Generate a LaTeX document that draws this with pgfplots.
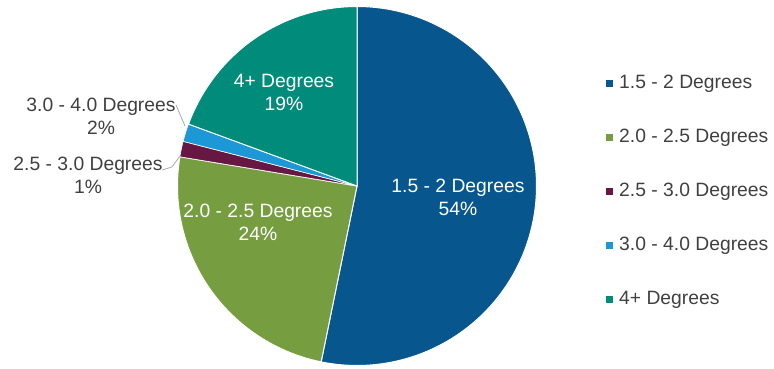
\documentclass[border=0pt]{standalone}
\usepackage{fontspec}
\setmainfont{Liberation Sans}
\usepackage{pgfplots}
\pgfplotsset{compat=1.18}
\definecolor{cA}{RGB}{8,86,142}
\definecolor{cB}{RGB}{118,158,64}
\definecolor{cC}{RGB}{102,24,66}
\definecolor{cD}{RGB}{28,152,214}
\definecolor{cE}{RGB}{0,139,122}
\definecolor{lbl}{RGB}{64,64,64}
\definecolor{lead}{RGB}{170,170,170}
% slice shares (percent of the circle)
\def\pA{53.2}\def\pB{24.4}\def\pC{1.4}\def\pD{1.6}\def\pE{19.4}
\begin{document}
\begin{tikzpicture}
\pgfmathsetmacro\aO{90}
\pgfmathsetmacro\aA{\aO-3.6*\pA}
\pgfmathsetmacro\aB{\aA-3.6*\pB}
\pgfmathsetmacro\aC{\aB-3.6*\pC}
\pgfmathsetmacro\aD{\aC-3.6*\pD}
\pgfmathsetmacro\aE{\aD-3.6*\pE}
\def\cx{357}\def\cy{183}\def\r{179.5}
\begin{axis}[
  scale only axis, width=774pt, height=369pt,
  xmin=0, xmax=774, ymin=0, ymax=369,
  hide axis, clip=false,
  legend cell align=left,
  legend style={at={(axis cs:603,297)}, anchor=north west, draw=none, fill=none,
    font=\fontsize{19.3}{23}\selectfont, text=lbl,
    nodes={inner sep=0pt, text height=14pt, text depth=4pt},
    row sep=36pt, column sep=6pt},
  legend image code/.code={\fill[#1,draw=none] (0pt,-3.5pt) rectangle (7pt,3.5pt);},
]
\path (axis cs:0,0) rectangle (axis cs:774,369);
\addplot[fill=cA, draw=white, line width=1pt, domain=\aA:\aO, samples=120, variable=\t]
  ({\cx+\r*cos(\t)},{\cy+\r*sin(\t)}) -- (axis cs:\cx,\cy) -- cycle;
\addlegendentry{1.5 - 2 Degrees}
\addplot[fill=cB, draw=white, line width=1pt, domain=\aB:\aA, samples=60, variable=\t]
  ({\cx+\r*cos(\t)},{\cy+\r*sin(\t)}) -- (axis cs:\cx,\cy) -- cycle;
\addlegendentry{2.0 - 2.5 Degrees}
\addplot[fill=cC, draw=white, line width=0.6pt, domain=\aC:\aB, samples=6, variable=\t]
  ({\cx+\r*cos(\t)},{\cy+\r*sin(\t)}) -- (axis cs:\cx,\cy) -- cycle;
\addlegendentry{2.5 - 3.0 Degrees}
\addplot[fill=cD, draw=white, line width=0.6pt, domain=\aD:\aC, samples=6, variable=\t]
  ({\cx+\r*cos(\t)},{\cy+\r*sin(\t)}) -- (axis cs:\cx,\cy) -- cycle;
\addlegendentry{3.0 - 4.0 Degrees}
\addplot[fill=cE, draw=white, line width=1pt, domain=\aE:\aD, samples=60, variable=\t]
  ({\cx+\r*cos(\t)},{\cy+\r*sin(\t)}) -- (axis cs:\cx,\cy) -- cycle;
\addlegendentry{4+ Degrees}
% data labels
\begin{scope}[every node/.style={align=center, font=\fontsize{19.3}{23}\selectfont, inner sep=0pt}]
\node[white] at (axis cs:458,171.5) {1.5 - 2 Degrees\\54\%};
\node[white] at (axis cs:258,147) {2.0 - 2.5 Degrees\\24\%};
\node[white] at (axis cs:284,276.5) {4+ Degrees\\19\%};
\node[lbl] at (axis cs:101,253) {3.0 - 4.0 Degrees\\2\%};
\node[lbl] at (axis cs:88,194) {2.5 - 3.0 Degrees\\1\%};
\end{scope}
\draw[lead, line width=0.8pt] (axis cs:176,264) -- (axis cs:185,243);
\draw[lead, line width=0.8pt] (axis cs:162,199) -- (axis cs:172,202) -- (axis cs:180,213);
\end{axis}
\end{tikzpicture}
\end{document}
